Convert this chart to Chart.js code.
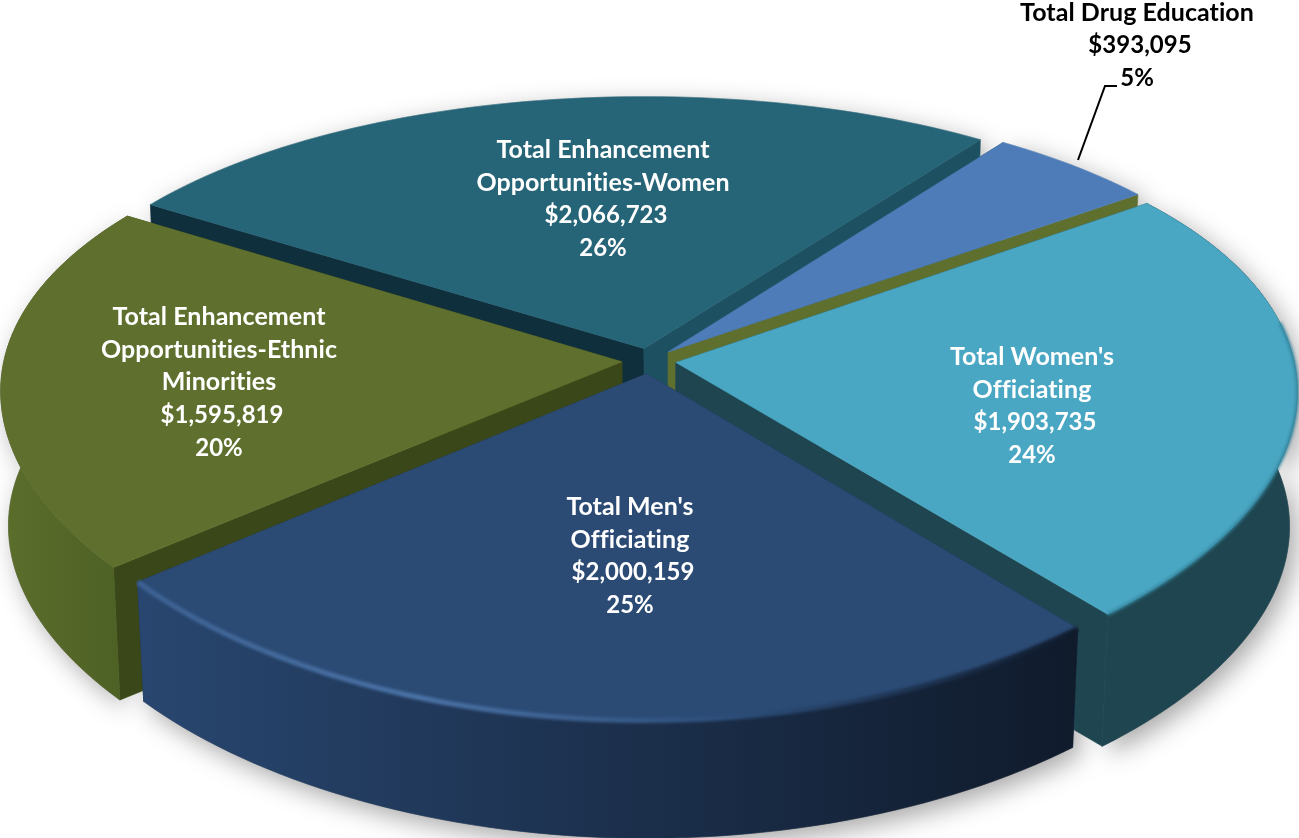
<!DOCTYPE html>
<html>
<head>
<meta charset="utf-8">
<title>Officiating and enhancement funding</title>
<style>html,body{margin:0;padding:0;background:#fff}canvas{display:block}</style>
<script src="https://cdn.jsdelivr.net/npm/chart.js@4"></script>
</head>
<body>
<canvas id="pie" width="1299" height="838"></canvas>
<script>
// Funding by program, clockwise from the Drug Education slice
const categories = ['Total Drug Education', "Total Women's Officiating", "Total Men's Officiating",
  'Total Enhancement Opportunities-Ethnic Minorities', 'Total Enhancement Opportunities-Women'];
const amounts = [393095, 1903735, 2000159, 1595819, 2066723];
const labelLines = [['Total Drug Education'], ["Total Women's", 'Officiating'], ["Total Men's", 'Officiating'],
  ['Total Enhancement', 'Opportunities-Ethnic', 'Minorities'], ['Total Enhancement', 'Opportunities-Women']];
const topColors = ['#4d7cb8', '#4aa7c3', '#2b4b75', '#5f702e', '#266477'];
const startWallColors = ['#1f5362', '#1f4650', '#1a3050', '#3a4718', '#0f2f3d'];
const endWallColors = ['#5f702e', '#1f4650', '#1a3050', '#3a4718', '#1d5060'];
// Outer wall colours, left to right; null where the wall faces away from the viewer
const outerWallStops = [null, ['#1f4650', '#1f4650'], ['#28466f', '#101b2c'], ['#5a6d2b', '#4d6025'], null];
const wallDepths = [135, 135, 122, 135, 135];
const labelAnchors = [[1137, 13], [1032, 357], [630, 507], [219, 317], [603, 150]];
const labelColors = ['#000', '#fff', '#fff', '#fff', '#fff'];
const drawOrder = [4, 0, 1, 3, 2];

// Camera for the tilted disc
const view = { cx: 649, cy: 361, rx: 618, ry: 292, tiltX: 0.095, tiltY: 0.146, shrink: 0.012 };

function project(u, v, z, depth) {
  const sx = (1 / (1 - view.tiltX * v)) * (1 - view.shrink * z);
  const sy = (1 / (1 - view.tiltY * v)) * (1 - view.shrink * z);
  return [view.cx + view.rx * u * sx, view.cy + view.ry * v * sy + depth * z];
}

function sliceGeometry(el, index) {
  const { startAngle, endAngle, outerRadius, options } = el;
  const mid = (startAngle + endAngle) / 2;
  const off = options.offset / outerRadius;
  const ox = Math.cos(mid) * off, oy = Math.sin(mid) * off;
  const depth = wallDepths[index];
  const arc = z => {
    const pts = [];
    const n = Math.ceil((endAngle - startAngle) * 40);
    for (let i = 0; i <= n; i++) {
      const a = startAngle + (endAngle - startAngle) * i / n;
      pts.push(project(Math.cos(a) + ox, Math.sin(a) + oy, z, depth));
    }
    return pts;
  };
  return { topArc: arc(0), botArc: arc(1), apexTop: project(ox, oy, 0, depth), apexBot: project(ox, oy, 1, depth) };
}

function fillPoly(ctx, pts, fill) {
  ctx.beginPath();
  pts.forEach((p, i) => i ? ctx.lineTo(p[0], p[1]) : ctx.moveTo(p[0], p[1]));
  ctx.closePath();
  ctx.fillStyle = fill;
  ctx.fill();
  // A hairline of the same colour closes the seams between neighbouring faces
  ctx.strokeStyle = fill;
  ctx.lineWidth = 0.6;
  ctx.stroke();
}

const extrudedPie = {
  id: 'extrudedPie',
  beforeDatasetDraw(chart, args) {
    const ctx = chart.ctx;
    const els = chart.getDatasetMeta(args.index).data;
    const geo = els.map(sliceGeometry);
    ctx.save();
    ctx.lineJoin = 'round';

    // Soft drop shadow under the whole solid
    ctx.save();
    ctx.shadowColor = 'rgba(0,0,0,0.35)';
    ctx.shadowBlur = 26;
    ctx.shadowOffsetX = 7;
    ctx.shadowOffsetY = 8;
    geo.forEach(g => fillPoly(ctx, [...g.topArc, ...g.botArc.slice().reverse()], '#888'));
    ctx.restore();
    // The shadow caster itself stays hidden behind the back slices' tops
    geo.forEach((g, i) => { if (!outerWallStops[i]) fillPoly(ctx, [...g.topArc, ...g.botArc.slice().reverse()], '#fff'); });

    drawOrder.forEach(i => {
      const g = geo[i];
      const tA = g.topArc, bA = g.botArc;
      fillPoly(ctx, [g.apexTop, tA[0], bA[0], g.apexBot], startWallColors[i]);
      fillPoly(ctx, [g.apexTop, tA[tA.length - 1], bA[bA.length - 1], g.apexBot], endWallColors[i]);

      if (outerWallStops[i]) {
        const xs = bA.map(p => p[0]);
        const grad = ctx.createLinearGradient(Math.max(...xs), 0, Math.min(...xs), 0);
        grad.addColorStop(0, outerWallStops[i][1]);
        grad.addColorStop(1, outerWallStops[i][0]);
        fillPoly(ctx, [...tA, ...bA.slice().reverse()], grad);
      }

      fillPoly(ctx, [g.apexTop, ...tA], topColors[i]);
    });

    // Bevel along the rims of the two front slices
    const strokeRim = (pts, style, width, blur) => {
      ctx.save();
      ctx.filter = `blur(${blur}px)`;
      ctx.beginPath();
      pts.forEach((p, k) => k ? ctx.lineTo(p[0], p[1]) : ctx.moveTo(p[0], p[1]));
      ctx.strokeStyle = style;
      ctx.lineWidth = width;
      ctx.stroke();
      ctx.restore();
    };
    strokeRim(geo[1].topArc.slice(20), '#35869f', 3, 1.5);
    const men = geo[2].topArc;
    const rim = ctx.createLinearGradient(men[0][0], 0, men[men.length - 1][0], 0);
    rim.addColorStop(0, '#101b2c');
    rim.addColorStop(0.35, '#2b4b75');
    rim.addColorStop(0.7, '#4c74a8');
    rim.addColorStop(1, '#3d6293');
    strokeRim(men, rim, 5, 1.6);

    ctx.restore();
    return false; // the solid replaces the flat arcs
  },
  afterDatasetsDraw(chart) {
    const ctx = chart.ctx;
    const total = amounts.reduce((a, b) => a + b, 0);
    ctx.save();

    // Leader line for the label that sits outside the pie
    ctx.beginPath();
    ctx.moveTo(1078, 160);
    ctx.lineTo(1105, 86);
    ctx.lineTo(1117, 86);
    ctx.strokeStyle = '#000';
    ctx.lineWidth = 2;
    ctx.stroke();

    ctx.letterSpacing = '0.05px';
    ctx.textAlign = 'center';
    ctx.textBaseline = 'middle';
    amounts.forEach((value, i) => {
      const [x, y] = labelAnchors[i];
      const names = labelLines[i];
      ctx.fillStyle = labelColors[i];
      ctx.font = 'bold 25px Lato';
      names.forEach((t, k) => ctx.fillText(t, x, y + k * 32.7));
      ctx.font = 'bold 24px Lato';
      ctx.fillText('$' + value.toLocaleString('en-US'), x + 3, y + names.length * 32.7);
      ctx.fillText(Math.round(value / total * 100) + '%', x, y + (names.length + 1) * 32.7);
    });
    ctx.restore();
  }
};

new Chart(document.getElementById('pie'), {
  type: 'pie',
  data: {
    labels: categories,
    datasets: [{ data: amounts, backgroundColor: topColors, borderWidth: 0, offset: 18 }]
  },
  options: {
    responsive: false,
    animation: false,
    rotation: 36,
    plugins: { legend: { display: false }, tooltip: { enabled: false } }
  },
  plugins: [extrudedPie]
});
</script>
</body>
</html>
